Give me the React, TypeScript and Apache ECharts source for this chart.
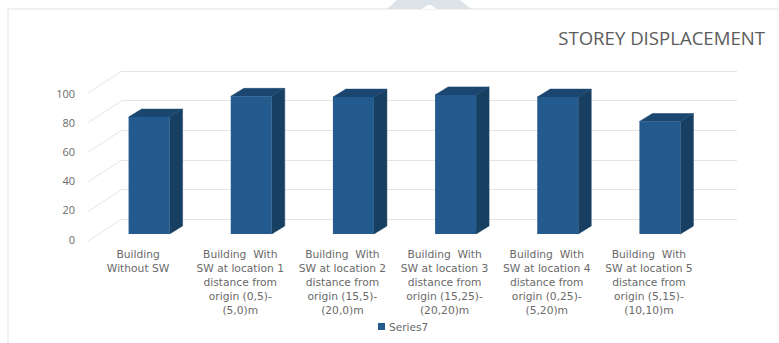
import React, { useEffect, useRef } from "react";
import * as echarts from "echarts";

const categories = [
  "Building\nWithout SW",
  "Building  With\nSW at location 1\ndistance from\norigin (0,5)-\n(5,0)m",
  "Building  With\nSW at location 2\ndistance from\norigin (15,5)-\n(20,0)m",
  "Building  With\nSW at location 3\ndistance from\norigin (15,25)-\n(20,20)m",
  "Building  With\nSW at location 4\ndistance from\norigin (0,25)-\n(5,20)m",
  "Building  With\nSW at location 5\ndistance from\norigin (5,15)-\n(10,10)m",
];
const displacement = [79, 93, 92.5, 94, 92.5, 76];
const wallTicks = [0, 20, 40, 60, 80, 100];

const FRONT = "#245b8e";
const TOP = "#1b4670";
const SIDE = "#173f62";
const GRID = "#e4e6e6";
const TEXT = "#6a6a6a";
const FONT = "'Open Sans', sans-serif";
const WIDE_FONT = "'DejaVu Sans', sans-serif";

export default function App() {
  const ref = useRef<HTMLDivElement>(null);

  useEffect(() => {
    const chart = echarts.init(ref.current!, undefined, { renderer: "svg" });
    chart.setOption({
      animation: false,
      backgroundColor: "#ffffff",
      title: {
        text: "STOREY DISPLACEMENT",
        right: 9,
        top: 23,
        textStyle: { fontFamily: FONT, fontSize: 18.6, fontWeight: "normal", color: "#5c5c5c" },
      },
      legend: {
        data: [{ name: "Series7", icon: "rect" }],
        left: 373,
        top: 316,
        itemWidth: 7,
        itemHeight: 7,
        itemGap: 3,
        textStyle: { fontFamily: WIDE_FONT, fontSize: 10.6, color: TEXT, padding: [0, 0, 0, -1] },
      },
      grid: [
        // rear wall of the 3D plot
        { left: 122, top: 71, width: 615, height: 148 },
        // front plane holding the bars
        { left: 98, top: 86, width: 613, height: 148 },
        // floor edge carrying the axis labels
        { left: 87, top: 93, width: 613, height: 146 },
      ],
      xAxis: [
        { gridIndex: 0, type: "value", min: 0, max: 1, show: false },
        { gridIndex: 1, type: "category", data: categories, show: false },
        {
          gridIndex: 2,
          type: "category",
          data: categories,
          axisLine: { show: false },
          axisTick: { show: false },
          axisLabel: {
            interval: 0,
            margin: 8,
            fontFamily: WIDE_FONT,
            fontSize: 10.7,
            lineHeight: 14,
            color: TEXT,
          },
        },
      ],
      yAxis: [
        {
          gridIndex: 0,
          type: "value",
          min: 0,
          max: 100,
          interval: 20,
          axisLabel: { show: false },
          axisLine: { show: false },
          axisTick: { show: false },
          splitLine: { lineStyle: { color: GRID, width: 1 } },
        },
        { gridIndex: 1, type: "value", min: 0, max: 100, show: false },
        {
          gridIndex: 2,
          type: "value",
          min: 0,
          max: 100,
          interval: 20,
          splitLine: { show: false },
          axisLine: { show: false },
          axisTick: { show: false },
          axisLabel: { margin: 12, fontFamily: FONT, fontSize: 11, color: TEXT },
        },
      ],
      series: [
        {
          // side-wall rulings running from the rear wall to the axis labels
          type: "custom",
          xAxisIndex: 0,
          yAxisIndex: 0,
          silent: true,
          data: wallTicks.map((v) => [0, v]),
          renderItem: (_p: any, api: any) => {
            const [x, y] = api.coord([api.value(0), api.value(1)]);
            return {
              type: "line",
              shape: { x1: x, y1: y, x2: x - 34, y2: y + 22 },
              style: { stroke: GRID, lineWidth: 1 },
            };
          },
        },
        {
          name: "Series7",
          type: "custom",
          xAxisIndex: 1,
          yAxisIndex: 1,
          silent: true,
          itemStyle: { color: FRONT },
          data: displacement.map((v, i) => [i, v]),
          renderItem: (_p: any, api: any) => {
            const top = api.coord([api.value(0), api.value(1)]);
            const base = api.coord([api.value(0), 0]);
            const half = 20.5;
            const dx = 13;
            const dy = 8;
            const l = top[0] - half;
            const r = top[0] + half;
            return {
              type: "group",
              children: [
                {
                  type: "polygon",
                  shape: { points: [[r, top[1]], [r + dx, top[1] - dy], [r + dx, base[1] - dy], [r, base[1]]] },
                  style: { fill: SIDE, stroke: SIDE, lineWidth: 0.5 },
                },
                {
                  type: "polygon",
                  shape: { points: [[l, top[1]], [l + dx, top[1] - dy], [r + dx, top[1] - dy], [r, top[1]]] },
                  style: { fill: TOP, stroke: TOP, lineWidth: 0.5 },
                },
                {
                  type: "rect",
                  shape: { x: l, y: top[1], width: r - l, height: base[1] - top[1] },
                  style: { fill: FRONT },
                },
              ],
            };
          },
        },
      ],
      graphic: [
        {
          type: "polyline",
          silent: true,
          shape: { points: [[8, 343], [8, 9], [779, 9]] },
          style: { stroke: "#dfe2e2", fill: "none", lineWidth: 1 },
        },
        {
          type: "polygon",
          silent: true,
          shape: { points: [[387, 9], [397, 0], [460, 0], [471, 9]] },
          style: { fill: "#dbe3e8" },
        },
        {
          type: "polygon",
          silent: true,
          shape: { points: [[422, 9], [428, 5], [431, 5], [436, 9]] },
          style: { fill: "#ffffff" },
        },
      ],
    });
    return () => chart.dispose();
  }, []);

  return <div ref={ref} style={{ position: "fixed", left: 0, top: 0, width: 779, height: 343 }} />;
}
